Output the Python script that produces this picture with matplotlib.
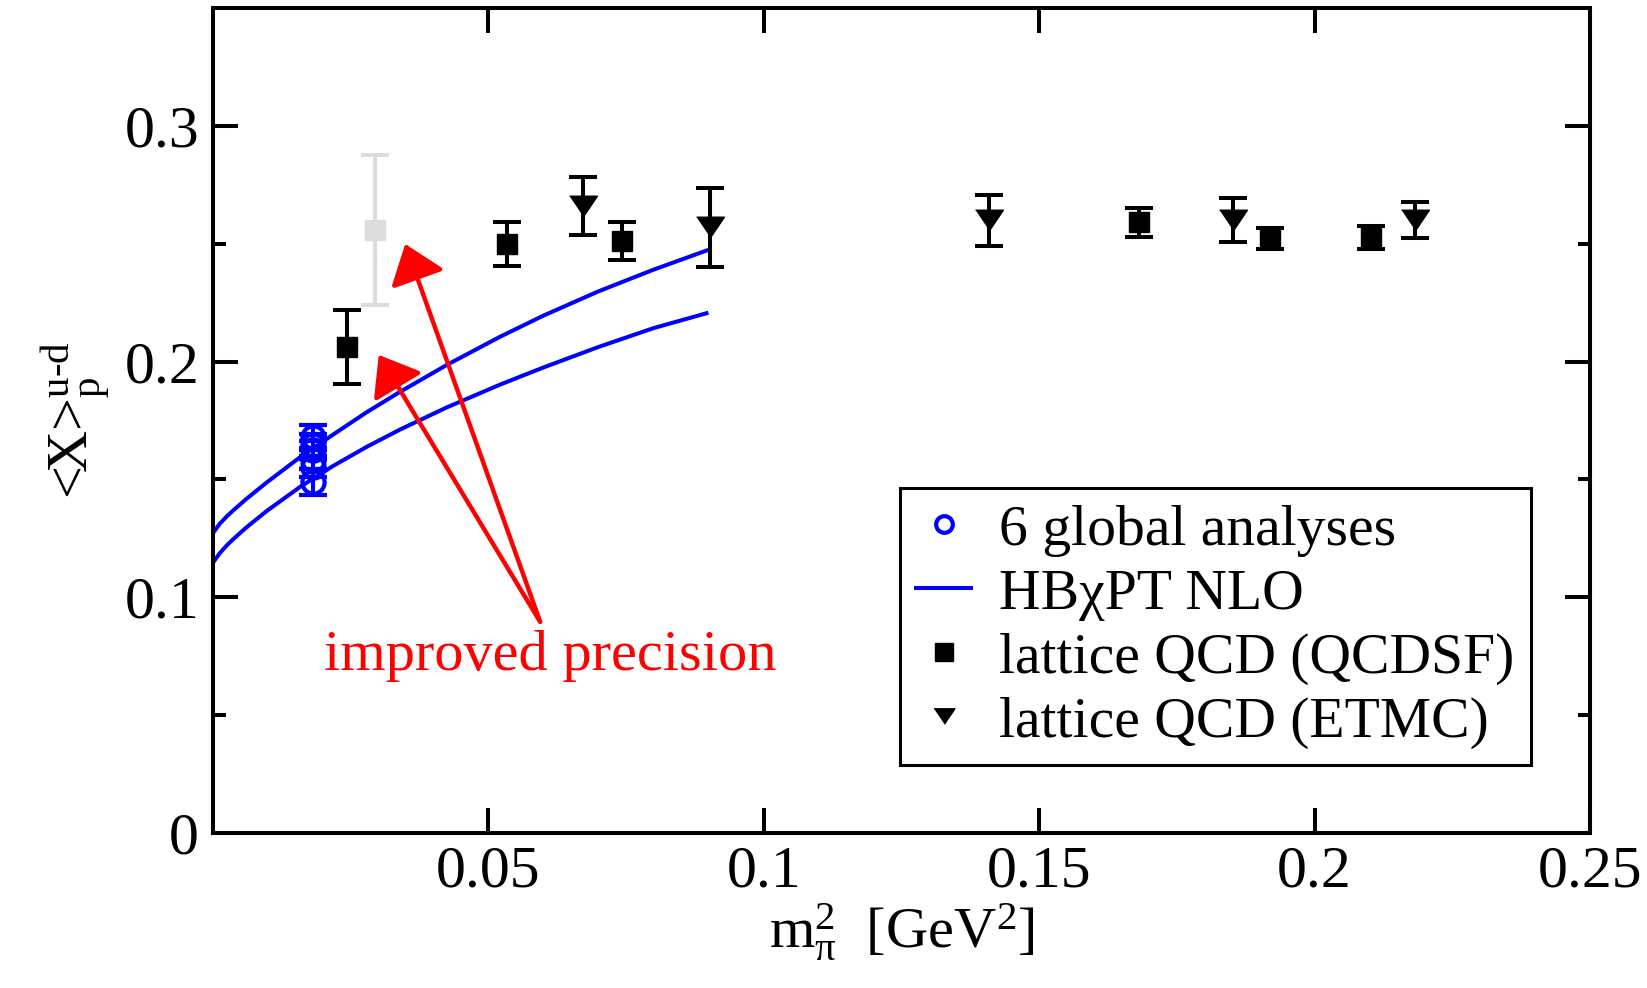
import matplotlib
matplotlib.use("Agg")
import matplotlib.pyplot as plt
from matplotlib.lines import Line2D

plt.rcParams["font.family"] = ["Liberation Serif", "DejaVu Serif"]
plt.rcParams["mathtext.fontset"] = "custom"
plt.rcParams["mathtext.rm"] = "Liberation Serif"
plt.rcParams["mathtext.it"] = "Liberation Serif"

# 6 global PDF analyses at the physical pion mass
glob_x = [0.0182, 0.0182, 0.0182, 0.0182, 0.0182, 0.0182]
glob_y = [0.1682, 0.1646, 0.1625, 0.1583, 0.1554, 0.1490]
glob_err = [0.0050, 0.0045, 0.0040, 0.0040, 0.0045, 0.0055]

# lattice QCD (QCDSF)
qcdsf_x = [0.0243, 0.0533, 0.0743, 0.1681, 0.1919, 0.2102]
qcdsf_y = [0.2063, 0.2498, 0.2512, 0.2590, 0.2522, 0.2527]
qcdsf_err = [0.0157, 0.0094, 0.0079, 0.0060, 0.0045, 0.0050]

# QCDSF point shown greyed out
grey_x = [0.0294]
grey_y = [0.2558]
grey_err = [0.0320]

# lattice QCD (ETMC)
etmc_x = [0.0672, 0.0902, 0.1409, 0.1852, 0.2182]
etmc_y = [0.2659, 0.2569, 0.2599, 0.2600, 0.2600]
etmc_err = [0.0122, 0.0166, 0.0108, 0.0093, 0.0076]

# HBchiPT NLO curves
chpt_x = [0.0, 0.0012, 0.0025, 0.0037, 0.006, 0.0097, 0.0158, 0.0218, 0.0279,
          0.034, 0.0424, 0.0521, 0.06, 0.07, 0.08, 0.0896]
chpt_upper = [0.1272, 0.1311, 0.1343, 0.1369, 0.1416, 0.1486, 0.1594, 0.1690, 0.1785,
              0.1872, 0.1985, 0.2105, 0.2195, 0.2298, 0.2390, 0.2471]
chpt_lower = [0.1147, 0.1186, 0.1220, 0.1247, 0.1295, 0.1365, 0.1468, 0.1557, 0.1638,
              0.1712, 0.1805, 0.1902, 0.1975, 0.2062, 0.2142, 0.2205]

arrow_tail = (0.0594, 0.0896)
arrow_tips = [(0.0349, 0.2499), (0.0301, 0.2028)]

BLUE = "#0000ff"
fig = plt.figure(figsize=(16.47, 9.88), dpi=100)
ax = fig.add_axes([0.1293, 0.1569, 0.8361, 0.8350])

ax.plot(chpt_x, chpt_upper, color=BLUE, lw=2.9)
ax.plot(chpt_x, chpt_lower, color=BLUE, lw=2.9)

err_kw = dict(capsize=10, elinewidth=2.9, capthick=2.9, linestyle="none")
tri = [(-1.35, 1.0), (1.35, 1.0), (0.0, -1.0)]
ax.errorbar(grey_x, grey_y, yerr=grey_err, marker="s", ms=14, color="#dcdcdc", **err_kw)
ax.errorbar(qcdsf_x, qcdsf_y, yerr=qcdsf_err, marker="s", ms=14, color="black", **err_kw)
ax.errorbar(etmc_x, etmc_y, yerr=etmc_err, marker=tri, ms=20, color="black", **err_kw)
ax.errorbar(glob_x, glob_y, yerr=glob_err, marker="o", ms=16, mfc="none", mec=BLUE,
            mew=3, color=BLUE, **err_kw)

for tip in arrow_tips:
    ax.annotate("", xy=tip, xytext=arrow_tail,
                arrowprops=dict(arrowstyle="-|>,head_length=0.92,head_width=0.7",
                                mutation_scale=25, color="red", lw=3.2,
                                shrinkA=0, shrinkB=0))
ax.text(0.0612, 0.0692, "improved precision", color="red", fontsize=42,
        ha="center", va="baseline")

ax.set_xlim(0, 0.25)
ax.set_ylim(0, 0.35)
ax.set_xticks([0.05, 0.1, 0.15, 0.2, 0.25])
ax.set_xticklabels(["0.05", "0.1", "0.15", "0.2", "0.25"])
ax.set_yticks([0, 0.1, 0.2, 0.3])
ax.set_yticklabels(["0", "0.1", "0.2", "0.3"])
ax.set_yticks([0.05, 0.15, 0.25], minor=True)
ax.tick_params(which="both", direction="in", top=True, right=True, width=2.9,
               labelsize=43)
ax.tick_params(which="major", length=18)
ax.tick_params(which="minor", length=9)
ax.tick_params(axis="x", pad=9)
ax.tick_params(axis="y", pad=10)
for sp in ax.spines.values():
    sp.set_linewidth(2.9)

ax.set_xlabel(r"$\mathrm{m}_{\pi}^{2}$  [GeV$^{2}$]", fontsize=42, labelpad=2)
ax.set_ylabel(r"<X>$_{\mathrm{p}}^{\mathrm{u}\text{-}\mathrm{d}}$", fontsize=42, labelpad=8)

handles = [
    Line2D([], [], ls="none", marker="o", ms=12, mfc="none", mec=BLUE, mew=3),
    Line2D([], [], color=BLUE, lw=2.9),
    Line2D([], [], ls="none", marker="s", ms=13, color="black"),
    Line2D([], [], ls="none", marker=tri, ms=15, color="black"),
]
labels = ["6 global analyses", "HB\u03c7PT NLO", "lattice QCD (QCDSF)", "lattice QCD (ETMC)"]
leg = ax.legend(handles, labels, loc="upper left", bbox_to_anchor=(0.499, 0.418),
                borderaxespad=0, fontsize=41.5, frameon=True, fancybox=False,
                framealpha=1, edgecolor="black", handlelength=0.95,
                handletextpad=0.49, labelspacing=0.2, borderpad=0.28)
leg.get_frame().set_linewidth(2.2)

fig.savefig("out.png", dpi=100)
